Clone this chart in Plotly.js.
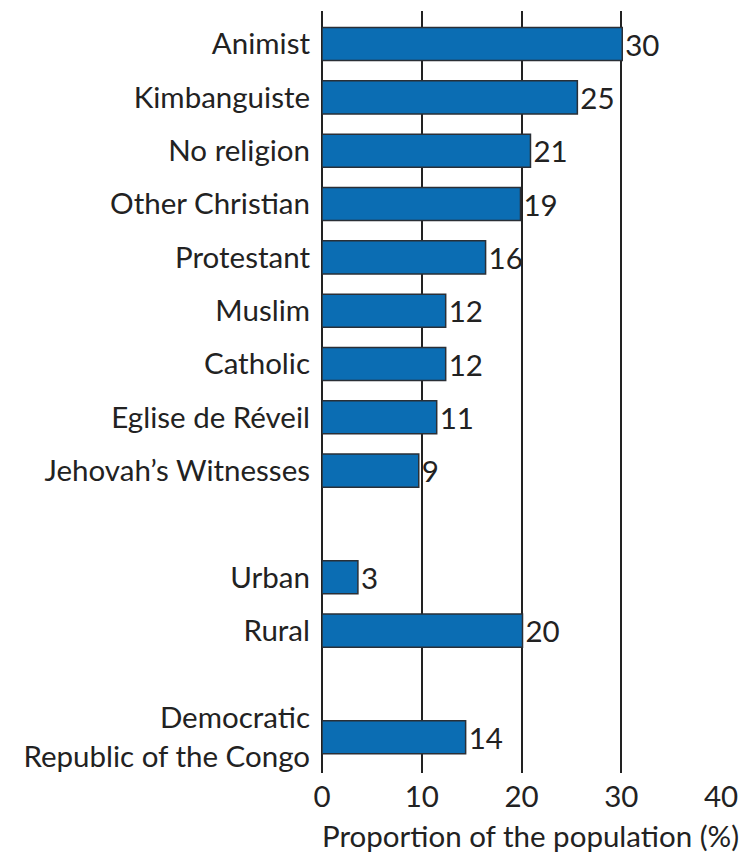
<!DOCTYPE html>
<html>
<head>
<meta charset="utf-8">
<script src="https://cdn.plot.ly/plotly-3.0.1.min.js"></script>
<style>html,body{margin:0;padding:0;background:#fff;}#chart{width:747px;height:855px;}</style>
</head>
<body>
<div id="chart"></div>
<script>
// Categories from bottom to top (blank entries are spacer slots)
const categories = ["Democratic<br>Republic of the Congo", " ", "Rural", "Urban", "  ",
  "Jehovah’s Witnesses", "Eglise de Réveil", "Catholic", "Muslim", "Protestant",
  "Other Christian", "No religion", "Kimbanguiste", "Animist"];
const values = [14.4, null, 20.1, 3.6, null, 9.7, 11.5, 12.4, 12.4, 16.4, 19.9, 20.9, 25.6, 30.1];
const valueLabels = ["14", "", "20", "3", "", "9", "11", "12", "12", "16", "19", "21", "25", "30"];
const xTicks = [0, 10, 20, 30, 40];
const xTitle = "Proportion of the population (%)";

const FONT = "Lato, 'Open Sans', sans-serif";
const TXT = "#222";
const FS = 29.5;

const trace = {
  type: "bar",
  orientation: "h",
  y: categories,
  x: values,
  text: valueLabels,
  textposition: "outside",
  constraintext: "none",
  cliponaxis: false,
  textfont: {family: FONT, size: FS, color: TXT},
  marker: {color: "#0b6db3", line: {color: "#2a2f36", width: 1.5}},
  hoverinfo: "skip"
};

const layout = {
  width: 747, height: 855,
  margin: {l: 322, r: 26, t: 11, b: 82},
  paper_bgcolor: "#fff", plot_bgcolor: "#fff",
  bargap: 0.38,
  showlegend: false,
  font: {family: FONT, size: FS, color: TXT},
  xaxis: {
    range: [0, 40],
    tickvals: xTicks,
    ticktext: xTicks.map(String),
    showgrid: true, gridcolor: "#222", gridwidth: 2,
    zeroline: true, zerolinecolor: "#222", zerolinewidth: 2,
    showline: false, ticks: "",
    tickfont: {family: FONT, size: FS, color: TXT},
    ticklabelstandoff: 3
  },
  yaxis: {
    type: "category",
    categoryorder: "array", categoryarray: categories,
    range: [-0.67, 13.62],
    showgrid: false, zeroline: false, showline: false, ticks: "",
    tickfont: {family: FONT, size: FS, color: TXT},
    ticklabelstandoff: 11
  },
  annotations: [{
    text: xTitle, xref: "paper", yref: "paper",
    x: 0.523, y: 0, yshift: -62, xanchor: "center", yanchor: "middle",
    showarrow: false, font: {family: FONT, size: FS, color: TXT}
  }]
};

Plotly.newPlot("chart", [trace], layout, {displayModeBar: false, staticPlot: true});
</script>
</body>
</html>
